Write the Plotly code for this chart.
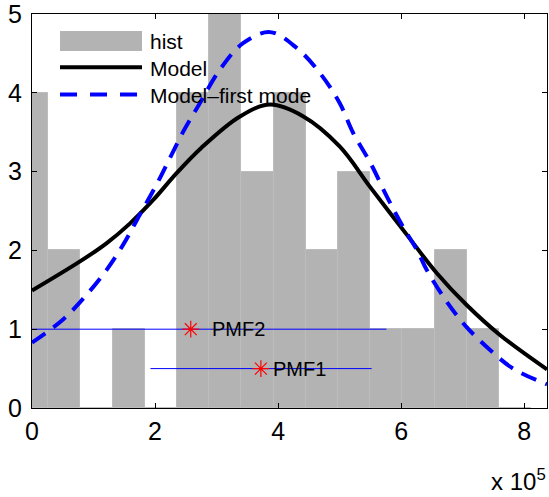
import plotly.graph_objects as go

# x values are in units of 1e5
bin_centers = [0.0, 0.5236, 1.0472, 1.5708, 2.0944, 2.618, 3.1416, 3.6652,
               4.1888, 4.7124, 5.236, 5.7596, 6.2832, 6.8068, 7.3304, 7.854]
bin_counts = [4, 2, 0, 1, 0, 4, 5, 3, 4, 2, 3, 1, 1, 2, 1, 0]

model_x = [0, 0.78, 1.21, 1.59, 1.97, 2.35, 2.75, 3.38, 3.87, 4.41, 5.0,
           5.5, 6.09, 6.58, 7.06, 7.6, 8.37]
model_y = [1.49, 1.86, 2.09, 2.34, 2.64, 2.98, 3.30, 3.70, 3.85, 3.70, 3.32,
           2.80, 2.20, 1.71, 1.31, 0.93, 0.49]

first_x = [0, 0.5, 0.88, 1.21, 1.48, 1.75, 2.02, 2.24, 2.46, 2.73, 3.05,
           3.43, 3.87, 4.30, 4.68, 5.0, 5.22, 5.5, 5.77, 6.03, 6.26, 6.41,
           6.74, 7.06, 7.44, 7.82, 8.37]
first_y = [0.83, 1.12, 1.43, 1.75, 2.07, 2.45, 2.83, 3.17, 3.51, 3.87, 4.29,
           4.63, 4.77, 4.57, 4.25, 3.87, 3.49, 3.11, 2.68, 2.30, 2.0, 1.76,
           1.35, 1.03, 0.74, 0.50, 0.30]

pmf_names = ["PMF2", "PMF1"]
pmf_center = [2.58, 3.72]
pmf_lo = [0.0, 1.925]
pmf_hi = [5.76, 5.52]
pmf_level = [1.0, 0.5]

x_ticks = [0, 2, 4, 6, 8]
y_ticks = [0, 1, 2, 3, 4, 5]

FONT = "Liberation Sans, Arial, sans-serif"
BLUE = "#0000ff"

fig = go.Figure()

fig.add_trace(go.Bar(
    x=bin_centers, y=bin_counts, width=0.5236,
    marker=dict(color="#b3b3b3", line=dict(color="#bdbdbd", width=1)),
    showlegend=False
))

fig.add_trace(go.Scatter(
    x=model_x, y=model_y, mode="lines",
    line=dict(color="black", width=4, shape="spline", smoothing=1),
    showlegend=False
))

fig.add_trace(go.Scatter(
    x=first_x, y=first_y, mode="lines",
    line=dict(color=BLUE, width=4, dash="16px,10px", shape="spline", smoothing=1),
    showlegend=False
))

for name, c, lo, hi, lev in zip(pmf_names, pmf_center, pmf_lo, pmf_hi, pmf_level):
    fig.add_trace(go.Scatter(
        x=[lo, hi], y=[lev, lev], mode="lines",
        line=dict(color=BLUE, width=1), showlegend=False
    ))
    fig.add_trace(go.Scatter(
        x=[c], y=[lev], mode="markers",
        marker=dict(symbol="asterisk-open", size=14, color="red",
                    line=dict(color="red", width=1.2)),
        showlegend=False
    ))

annotations = [
    dict(x=pmf_center[0], y=pmf_level[0], text=pmf_names[0], xanchor="left",
         xshift=19, showarrow=False, font=dict(size=20, color="black", family=FONT)),
    dict(x=pmf_center[1], y=pmf_level[1], text=pmf_names[1], xanchor="left",
         xshift=10, showarrow=False, font=dict(size=20, color="black", family=FONT)),
    dict(x=1.0, y=-0.14, xref="paper", yref="paper", text="x 10<sup>5</sup>",
         xanchor="right", yanchor="top", showarrow=False, xshift=1,
         font=dict(size=24, color="black", family=FONT)),
]

# hand-drawn legend (transparent, like the original)
leg_font = dict(size=21, color="black", family=FONT)
for label, yc in [("hist", 0.931), ("Model", 0.862), ("Model\u2013first mode", 0.793)]:
    annotations.append(dict(x=0.225, y=yc, xref="paper", yref="paper", text=label,
                            xanchor="left", yanchor="middle", showarrow=False,
                            font=leg_font))

shapes = [
    dict(type="rect", xref="paper", yref="paper", x0=0.0544, x1=0.2136,
         y0=0.906, y1=0.957, fillcolor="#b3b3b3", line=dict(width=0)),
    dict(type="line", xref="paper", yref="paper", x0=0.0544, x1=0.2136,
         y0=0.865, y1=0.865, line=dict(color="black", width=4)),
    dict(type="line", xref="paper", yref="paper", x0=0.0544, x1=0.2136,
         y0=0.796, y1=0.796, line=dict(color=BLUE, width=4, dash="17px,13px")),
]

fig.update_layout(
    width=549, height=497,
    margin=dict(l=32, r=2, t=14, b=89, autoexpand=False),
    plot_bgcolor="white", paper_bgcolor="white",
    font=dict(family=FONT, color="black"),
    bargap=0,
    annotations=annotations,
    shapes=shapes,
)

fig.update_xaxes(
    range=[0, 8.37], tickvals=x_ticks, ticktext=[str(t) for t in x_ticks],
    ticks="inside", ticklen=5, tickcolor="black",
    showline=True, linecolor="black", linewidth=1, mirror="allticks",
    showgrid=False, zeroline=False, automargin=False,
    ticklabeloverflow="allow", ticklabelstandoff=1,
    tickfont=dict(size=25, family=FONT, color="black"),
)
fig.update_yaxes(
    range=[0, 5], tickvals=y_ticks,
    ticks="inside", ticklen=5, tickcolor="black",
    showline=True, linecolor="black", linewidth=1, mirror="allticks",
    showgrid=False, zeroline=False, ticklabelstandoff=4, automargin=False,
    ticklabeloverflow="allow",
    tickfont=dict(size=25, family=FONT, color="black"),
)

# the page body has a default 8px margin; drop it so the figure fills the window
fig.write_html("out.html", config={"displayModeBar": False},
               post_script="document.body.style.margin='0';")
